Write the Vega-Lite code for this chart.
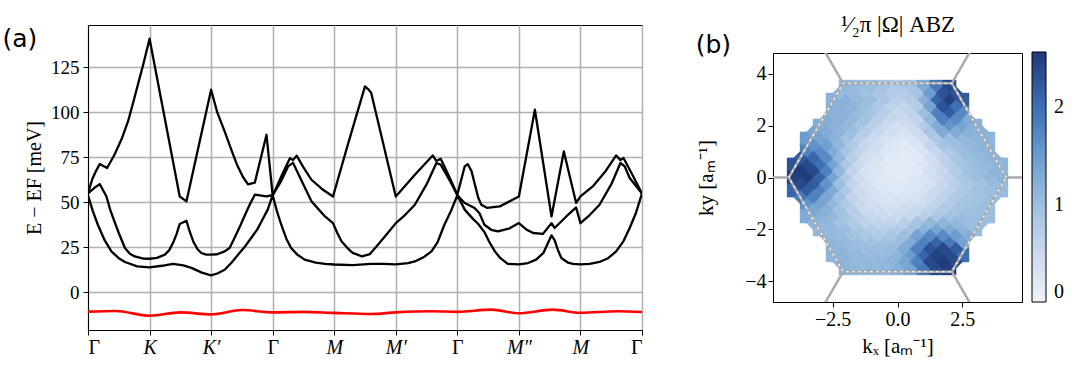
{
 "$schema": "https://vega.github.io/schema/vega-lite/v6.json",
 "background": "white",
 "padding": {"left": 2, "top": 12, "right": 0, "bottom": 0},
 "datasets": {
  "bands": [
   {"b":"t","k":0,"E":55},{"b":"t","k":0.07,"E":63},{"b":"t","k":0.13,"E":67.5},{"b":"t","k":0.19,"E":71.3},{"b":"t","k":0.31,"E":69.1},{"b":"t","k":0.43,"E":76.5},{"b":"t","k":0.55,"E":85.5},{"b":"t","k":0.65,"E":95},{"b":"t","k":0.73,"E":105},{"b":"t","k":0.81,"E":115.4},{"b":"t","k":0.9,"E":127},{"b":"t","k":1.0,"E":141},{"b":"t","k":1.49,"E":53.3},{"b":"t","k":1.6,"E":50.6},{"b":"t","k":2.0,"E":112.6},{"b":"t","k":2.1,"E":100},{"b":"t","k":2.22,"E":89.5},{"b":"t","k":2.32,"E":80},{"b":"t","k":2.42,"E":71},{"b":"t","k":2.52,"E":64},{"b":"t","k":2.6,"E":60},{"b":"t","k":2.71,"E":61},{"b":"t","k":2.9,"E":87.6},{"b":"t","k":3.0,"E":54},{"b":"t","k":3.07,"E":59},{"b":"t","k":3.14,"E":64.4},{"b":"t","k":3.21,"E":69.5},{"b":"t","k":3.28,"E":74.6},{"b":"t","k":3.33,"E":73.5},{"b":"t","k":3.39,"E":76},{"b":"t","k":3.5,"E":69.5},{"b":"t","k":3.63,"E":62.6},{"b":"t","k":3.8,"E":57.5},{"b":"t","k":3.98,"E":53.3},{"b":"t","k":4.22,"E":82},{"b":"t","k":4.5,"E":114.5},{"b":"t","k":4.55,"E":113},{"b":"t","k":4.6,"E":111},{"b":"t","k":5.0,"E":53.3},{"b":"t","k":5.31,"E":65.4},{"b":"t","k":5.6,"E":76.1},{"b":"t","k":5.66,"E":73},{"b":"t","k":5.73,"E":74.3},{"b":"t","k":5.88,"E":63.5},{"b":"t","k":6.0,"E":54.3},{"b":"t","k":6.07,"E":63.5},{"b":"t","k":6.12,"E":70},{"b":"t","k":6.17,"E":71.3},{"b":"t","k":6.23,"E":67.4},{"b":"t","k":6.34,"E":52.6},{"b":"t","k":6.39,"E":48.7},{"b":"t","k":6.48,"E":47},{"b":"t","k":6.69,"E":47.8},{"b":"t","k":6.85,"E":50.6},{"b":"t","k":7.0,"E":53.3},{"b":"t","k":7.26,"E":101.5},{"b":"t","k":7.53,"E":42.2},{"b":"t","k":7.73,"E":78.3},{"b":"t","k":7.93,"E":49.7},{"b":"t","k":8.0,"E":53.3},{"b":"t","k":8.2,"E":58.9},{"b":"t","k":8.4,"E":67},{"b":"t","k":8.58,"E":76.1},{"b":"t","k":8.65,"E":73.5},{"b":"t","k":8.7,"E":74.7},{"b":"t","k":8.85,"E":65},{"b":"t","k":9.0,"E":55},
   {"b":"m","k":0,"E":55},{"b":"m","k":0.1,"E":58},{"b":"m","k":0.19,"E":60.2},{"b":"m","k":0.3,"E":53.3},{"b":"m","k":0.36,"E":46},{"b":"m","k":0.43,"E":39.4},{"b":"m","k":0.5,"E":33},{"b":"m","k":0.6,"E":24.7},{"b":"m","k":0.68,"E":21.5},{"b":"m","k":0.76,"E":20},{"b":"m","k":0.9,"E":18.8},{"b":"m","k":1.0,"E":18.7},{"b":"m","k":1.12,"E":19.2},{"b":"m","k":1.25,"E":21},{"b":"m","k":1.32,"E":23.5},{"b":"m","k":1.38,"E":27.4},{"b":"m","k":1.44,"E":32.5},{"b":"m","k":1.49,"E":38},{"b":"m","k":1.6,"E":39.8},{"b":"m","k":1.65,"E":34},{"b":"m","k":1.71,"E":28.3},{"b":"m","k":1.78,"E":24},{"b":"m","k":1.84,"E":21.9},{"b":"m","k":1.92,"E":21},{"b":"m","k":2.0,"E":21},{"b":"m","k":2.1,"E":21.2},{"b":"m","k":2.22,"E":22.8},{"b":"m","k":2.3,"E":24.7},{"b":"m","k":2.38,"E":30.2},{"b":"m","k":2.46,"E":36},{"b":"m","k":2.55,"E":43},{"b":"m","k":2.63,"E":49},{"b":"m","k":2.71,"E":54.3},{"b":"m","k":2.9,"E":53.3},{"b":"m","k":3.0,"E":54},{"b":"m","k":3.14,"E":62},{"b":"m","k":3.25,"E":70},{"b":"m","k":3.33,"E":72},{"b":"m","k":3.45,"E":63.5},{"b":"m","k":3.63,"E":50.6},{"b":"m","k":3.75,"E":46},{"b":"m","k":3.85,"E":42.2},{"b":"m","k":3.98,"E":38.5},{"b":"m","k":4.05,"E":33},{"b":"m","k":4.12,"E":28.3},{"b":"m","k":4.22,"E":24.5},{"b":"m","k":4.3,"E":22},{"b":"m","k":4.45,"E":20},{"b":"m","k":4.58,"E":21.3},{"b":"m","k":4.71,"E":26.5},{"b":"m","k":4.87,"E":33},{"b":"m","k":5.0,"E":38.5},{"b":"m","k":5.15,"E":43},{"b":"m","k":5.31,"E":48.7},{"b":"m","k":5.5,"E":60},{"b":"m","k":5.66,"E":71.9},{"b":"m","k":5.73,"E":71},{"b":"m","k":5.88,"E":62},{"b":"m","k":6.0,"E":54},{"b":"m","k":6.12,"E":49.7},{"b":"m","k":6.28,"E":46.9},{"b":"m","k":6.36,"E":44},{"b":"m","k":6.44,"E":37.6},{"b":"m","k":6.55,"E":34.8},{"b":"m","k":6.66,"E":33.9},{"b":"m","k":6.85,"E":35.6},{"b":"m","k":7.0,"E":38.5},{"b":"m","k":7.12,"E":35},{"b":"m","k":7.23,"E":33},{"b":"m","k":7.39,"E":32.5},{"b":"m","k":7.53,"E":38.5},{"b":"m","k":7.58,"E":35.8},{"b":"m","k":7.77,"E":42.2},{"b":"m","k":7.93,"E":47.2},{"b":"m","k":8.0,"E":38.5},{"b":"m","k":8.15,"E":43},{"b":"m","k":8.31,"E":48.7},{"b":"m","k":8.5,"E":60},{"b":"m","k":8.65,"E":71.9},{"b":"m","k":8.72,"E":70},{"b":"m","k":8.8,"E":63.6},{"b":"m","k":9.0,"E":55},
   {"b":"l","k":0,"E":54},{"b":"l","k":0.08,"E":45},{"b":"l","k":0.16,"E":37.6},{"b":"l","k":0.27,"E":29},{"b":"l","k":0.38,"E":22.8},{"b":"l","k":0.5,"E":19},{"b":"l","k":0.6,"E":16.9},{"b":"l","k":0.8,"E":14.5},{"b":"l","k":1.0,"E":13.9},{"b":"l","k":1.2,"E":14.8},{"b":"l","k":1.38,"E":15.8},{"b":"l","k":1.55,"E":15},{"b":"l","k":1.68,"E":13.6},{"b":"l","k":1.85,"E":11},{"b":"l","k":2.0,"E":9.5},{"b":"l","k":2.1,"E":10.5},{"b":"l","k":2.22,"E":12.6},{"b":"l","k":2.33,"E":16.5},{"b":"l","k":2.44,"E":21},{"b":"l","k":2.55,"E":25.5},{"b":"l","k":2.65,"E":30.2},{"b":"l","k":2.75,"E":35},{"b":"l","k":2.82,"E":39.5},{"b":"l","k":2.92,"E":46},{"b":"l","k":3.0,"E":54},{"b":"l","k":3.07,"E":45},{"b":"l","k":3.14,"E":37.6},{"b":"l","k":3.22,"E":30},{"b":"l","k":3.3,"E":24.7},{"b":"l","k":3.4,"E":21},{"b":"l","k":3.52,"E":18.2},{"b":"l","k":3.7,"E":16.5},{"b":"l","k":3.85,"E":15.8},{"b":"l","k":4.0,"E":15.5},{"b":"l","k":4.3,"E":15.2},{"b":"l","k":4.6,"E":15.8},{"b":"l","k":4.8,"E":15.9},{"b":"l","k":5.0,"E":15.6},{"b":"l","k":5.2,"E":16.3},{"b":"l","k":5.31,"E":17.2},{"b":"l","k":5.45,"E":19.5},{"b":"l","k":5.58,"E":22.8},{"b":"l","k":5.68,"E":28},{"b":"l","k":5.79,"E":37.6},{"b":"l","k":5.9,"E":45.5},{"b":"l","k":6.0,"E":54},{"b":"l","k":6.12,"E":46},{"b":"l","k":6.25,"E":41},{"b":"l","k":6.34,"E":38},{"b":"l","k":6.44,"E":33.5},{"b":"l","k":6.52,"E":28},{"b":"l","k":6.61,"E":22.8},{"b":"l","k":6.7,"E":19},{"b":"l","k":6.82,"E":15.8},{"b":"l","k":7.0,"E":15.6},{"b":"l","k":7.15,"E":16.3},{"b":"l","k":7.28,"E":18.2},{"b":"l","k":7.4,"E":22},{"b":"l","k":7.48,"E":28},{"b":"l","k":7.53,"E":31.7},{"b":"l","k":7.58,"E":29},{"b":"l","k":7.64,"E":23},{"b":"l","k":7.69,"E":19.1},{"b":"l","k":7.8,"E":16.5},{"b":"l","k":7.88,"E":15.8},{"b":"l","k":8.0,"E":15.6},{"b":"l","k":8.15,"E":15.9},{"b":"l","k":8.31,"E":16.9},{"b":"l","k":8.45,"E":19},{"b":"l","k":8.58,"E":22.8},{"b":"l","k":8.7,"E":28.5},{"b":"l","k":8.8,"E":35.8},{"b":"l","k":8.9,"E":44},{"b":"l","k":9.0,"E":55},
   {"b":"r","k":0,"E":-10.7},{"b":"r","k":0.45,"E":-10.3},{"b":"r","k":1.0,"E":-13},{"b":"r","k":1.5,"E":-11.1},{"b":"r","k":2.0,"E":-12.2},{"b":"r","k":2.5,"E":-9.8},{"b":"r","k":3.0,"E":-11.1},{"b":"r","k":3.5,"E":-10.8},{"b":"r","k":4.0,"E":-11.4},{"b":"r","k":4.6,"E":-12},{"b":"r","k":5.0,"E":-11.1},{"b":"r","k":5.6,"E":-10.5},{"b":"r","k":6.0,"E":-10.8},{"b":"r","k":6.55,"E":-9.6},{"b":"r","k":7.0,"E":-11.6},{"b":"r","k":7.55,"E":-9.6},{"b":"r","k":8.0,"E":-11.3},{"b":"r","k":8.6,"E":-10.5},{"b":"r","k":9.0,"E":-10.9}
  ],
  "heat": [
   {"x":-2,"y":3.5,"v":1.1},{"x":-1.5,"y":3.5,"v":1.05},{"x":-1,"y":3.5,"v":1.0},{"x":-0.5,"y":3.5,"v":0.9},{"x":0,"y":3.5,"v":0.8},{"x":0.5,"y":3.5,"v":0.9},{"x":1,"y":3.5,"v":1.3},{"x":1.5,"y":3.5,"v":1.9},{"x":2,"y":3.5,"v":2.4},
   {"x":-2.5,"y":3,"v":1.2},{"x":-2,"y":3,"v":1.2},{"x":-1.5,"y":3,"v":1.1},{"x":-1,"y":3,"v":1.0},{"x":-0.5,"y":3,"v":0.85},{"x":0,"y":3,"v":0.7},{"x":0.5,"y":3,"v":0.75},{"x":1,"y":3,"v":1.2},{"x":1.5,"y":3,"v":2.1},{"x":2,"y":3,"v":2.5},{"x":2.5,"y":3,"v":2.2},
   {"x":-2.5,"y":2.5,"v":1.2},{"x":-2,"y":2.5,"v":1.2},{"x":-1.5,"y":2.5,"v":1.05},{"x":-1,"y":2.5,"v":0.9},{"x":-0.5,"y":2.5,"v":0.7},{"x":0,"y":2.5,"v":0.55},{"x":0.5,"y":2.5,"v":0.6},{"x":1,"y":2.5,"v":1.0},{"x":1.5,"y":2.5,"v":1.8},{"x":2,"y":2.5,"v":2.2},{"x":2.5,"y":2.5,"v":1.7},
   {"x":-3,"y":2,"v":1.25},{"x":-2.5,"y":2,"v":1.2},{"x":-2,"y":2,"v":1.1},{"x":-1.5,"y":2,"v":0.9},{"x":-1,"y":2,"v":0.7},{"x":-0.5,"y":2,"v":0.5},{"x":0,"y":2,"v":0.4},{"x":0.5,"y":2,"v":0.45},{"x":1,"y":2,"v":0.75},{"x":1.5,"y":2,"v":1.3},{"x":2,"y":2,"v":1.6},{"x":2.5,"y":2,"v":1.4},{"x":3,"y":2,"v":1.2},
   {"x":-3.5,"y":1.5,"v":1.5},{"x":-3,"y":1.5,"v":1.4},{"x":-2.5,"y":1.5,"v":1.2},{"x":-2,"y":1.5,"v":0.95},{"x":-1.5,"y":1.5,"v":0.7},{"x":-1,"y":1.5,"v":0.5},{"x":-0.5,"y":1.5,"v":0.35},{"x":0,"y":1.5,"v":0.3},{"x":0.5,"y":1.5,"v":0.3},{"x":1,"y":1.5,"v":0.45},{"x":1.5,"y":1.5,"v":0.8},{"x":2,"y":1.5,"v":1.0},{"x":2.5,"y":1.5,"v":1.1},{"x":3,"y":1.5,"v":1.15},{"x":3.5,"y":1.5,"v":1.15},
   {"x":-3.5,"y":1,"v":1.8},{"x":-3,"y":1,"v":1.7},{"x":-2.5,"y":1,"v":1.3},{"x":-2,"y":1,"v":0.9},{"x":-1.5,"y":1,"v":0.6},{"x":-1,"y":1,"v":0.4},{"x":-0.5,"y":1,"v":0.25},{"x":0,"y":1,"v":0.2},{"x":0.5,"y":1,"v":0.15},{"x":1,"y":1,"v":0.3},{"x":1.5,"y":1,"v":0.55},{"x":2,"y":1,"v":0.8},{"x":2.5,"y":1,"v":1.0},{"x":3,"y":1,"v":1.1},{"x":3.5,"y":1,"v":1.15},
   {"x":-4,"y":0.5,"v":2.3},{"x":-3.5,"y":0.5,"v":2.4},{"x":-3,"y":0.5,"v":2.0},{"x":-2.5,"y":0.5,"v":1.4},{"x":-2,"y":0.5,"v":0.85},{"x":-1.5,"y":0.5,"v":0.5},{"x":-1,"y":0.5,"v":0.3},{"x":-0.5,"y":0.5,"v":0.2},{"x":0,"y":0.5,"v":0.15},{"x":0.5,"y":0.5,"v":0.15},{"x":1,"y":0.5,"v":0.25},{"x":1.5,"y":0.5,"v":0.45},{"x":2,"y":0.5,"v":0.7},{"x":2.5,"y":0.5,"v":0.9},{"x":3,"y":0.5,"v":1.05},{"x":3.5,"y":0.5,"v":1.1},{"x":4,"y":0.5,"v":1.15},
   {"x":-4,"y":0,"v":2.5},{"x":-3.5,"y":0,"v":2.55},{"x":-3,"y":0,"v":2.1},{"x":-2.5,"y":0,"v":1.4},{"x":-2,"y":0,"v":0.8},{"x":-1.5,"y":0,"v":0.45},{"x":-1,"y":0,"v":0.3},{"x":-0.5,"y":0,"v":0.2},{"x":0,"y":0,"v":0.15},{"x":0.5,"y":0,"v":0.2},{"x":1,"y":0,"v":0.3},{"x":1.5,"y":0,"v":0.45},{"x":2,"y":0,"v":0.65},{"x":2.5,"y":0,"v":0.85},{"x":3,"y":0,"v":1.0},{"x":3.5,"y":0,"v":1.1},{"x":4,"y":0,"v":1.15},
   {"x":-4,"y":-0.5,"v":2.1},{"x":-3.5,"y":-0.5,"v":2.2},{"x":-3,"y":-0.5,"v":1.8},{"x":-2.5,"y":-0.5,"v":1.3},{"x":-2,"y":-0.5,"v":0.8},{"x":-1.5,"y":-0.5,"v":0.5},{"x":-1,"y":-0.5,"v":0.35},{"x":-0.5,"y":-0.5,"v":0.25},{"x":0,"y":-0.5,"v":0.2},{"x":0.5,"y":-0.5,"v":0.25},{"x":1,"y":-0.5,"v":0.35},{"x":1.5,"y":-0.5,"v":0.5},{"x":2,"y":-0.5,"v":0.65},{"x":2.5,"y":-0.5,"v":0.8},{"x":3,"y":-0.5,"v":0.95},{"x":3.5,"y":-0.5,"v":1.0},{"x":4,"y":-0.5,"v":1.05},
   {"x":-3.5,"y":-1,"v":1.6},{"x":-3,"y":-1,"v":1.4},{"x":-2.5,"y":-1,"v":1.1},{"x":-2,"y":-1,"v":0.8},{"x":-1.5,"y":-1,"v":0.55},{"x":-1,"y":-1,"v":0.4},{"x":-0.5,"y":-1,"v":0.35},{"x":0,"y":-1,"v":0.35},{"x":0.5,"y":-1,"v":0.4},{"x":1,"y":-1,"v":0.45},{"x":1.5,"y":-1,"v":0.6},{"x":2,"y":-1,"v":0.75},{"x":2.5,"y":-1,"v":0.9},{"x":3,"y":-1,"v":0.95},{"x":3.5,"y":-1,"v":1.0},
   {"x":-3.5,"y":-1.5,"v":1.3},{"x":-3,"y":-1.5,"v":1.2},{"x":-2.5,"y":-1.5,"v":1.1},{"x":-2,"y":-1.5,"v":0.9},{"x":-1.5,"y":-1.5,"v":0.7},{"x":-1,"y":-1.5,"v":0.55},{"x":-0.5,"y":-1.5,"v":0.5},{"x":0,"y":-1.5,"v":0.5},{"x":0.5,"y":-1.5,"v":0.55},{"x":1,"y":-1.5,"v":0.7},{"x":1.5,"y":-1.5,"v":0.85},{"x":2,"y":-1.5,"v":0.95},{"x":2.5,"y":-1.5,"v":1.0},{"x":3,"y":-1.5,"v":1.0},{"x":3.5,"y":-1.5,"v":1.0},
   {"x":-3,"y":-2,"v":1.1},{"x":-2.5,"y":-2,"v":1.1},{"x":-2,"y":-2,"v":1.0},{"x":-1.5,"y":-2,"v":0.85},{"x":-1,"y":-2,"v":0.75},{"x":-0.5,"y":-2,"v":0.7},{"x":0,"y":-2,"v":0.75},{"x":0.5,"y":-2,"v":0.9},{"x":1,"y":-2,"v":1.2},{"x":1.5,"y":-2,"v":1.4},{"x":2,"y":-2,"v":1.3},{"x":2.5,"y":-2,"v":1.15},{"x":3,"y":-2,"v":1.05},
   {"x":-2.5,"y":-2.5,"v":1.15},{"x":-2,"y":-2.5,"v":1.1},{"x":-1.5,"y":-2.5,"v":1.0},{"x":-1,"y":-2.5,"v":0.95},{"x":-0.5,"y":-2.5,"v":0.95},{"x":0,"y":-2.5,"v":1.0},{"x":0.5,"y":-2.5,"v":1.3},{"x":1,"y":-2.5,"v":1.8},{"x":1.5,"y":-2.5,"v":2.1},{"x":2,"y":-2.5,"v":1.9},{"x":2.5,"y":-2.5,"v":1.4},
   {"x":-2.5,"y":-3,"v":1.15},{"x":-2,"y":-3,"v":1.15},{"x":-1.5,"y":-3,"v":1.1},{"x":-1,"y":-3,"v":1.05},{"x":-0.5,"y":-3,"v":1.05},{"x":0,"y":-3,"v":1.15},{"x":0.5,"y":-3,"v":1.5},{"x":1,"y":-3,"v":2.1},{"x":1.5,"y":-3,"v":2.5},{"x":2,"y":-3,"v":2.4},{"x":2.5,"y":-3,"v":2.0},
   {"x":-2,"y":-3.5,"v":1.15},{"x":-1.5,"y":-3.5,"v":1.1},{"x":-1,"y":-3.5,"v":1.1},{"x":-0.5,"y":-3.5,"v":1.1},{"x":0,"y":-3.5,"v":1.2},{"x":0.5,"y":-3.5,"v":1.4},{"x":1,"y":-3.5,"v":1.9},{"x":1.5,"y":-3.5,"v":2.4},{"x":2,"y":-3.5,"v":2.5}
  ],
  "heat2": [
   {"x":-2.25,"y":3.25,"v":1.05},{"x":-1.75,"y":3.25,"v":1.05},{"x":-1.25,"y":3.25,"v":0.95},{"x":-0.75,"y":3.25,"v":0.85},{"x":-0.25,"y":3.25,"v":0.75},{"x":0.25,"y":3.25,"v":0.75},{"x":0.75,"y":3.25,"v":0.9},{"x":1.25,"y":3.25,"v":1.5},{"x":1.75,"y":3.25,"v":2.3},{"x":2.25,"y":3.25,"v":2.3},
   {"x":-2.25,"y":2.75,"v":1.2},{"x":-1.75,"y":2.75,"v":1.15},{"x":-1.25,"y":2.75,"v":1.0},{"x":-0.75,"y":2.75,"v":0.8},{"x":-0.25,"y":2.75,"v":0.65},{"x":0.25,"y":2.75,"v":0.6},{"x":0.75,"y":2.75,"v":0.75},{"x":1.25,"y":2.75,"v":1.4},{"x":1.75,"y":2.75,"v":2.3},{"x":2.25,"y":2.75,"v":2.0},
   {"x":-2.75,"y":2.25,"v":1.25},{"x":-2.25,"y":2.25,"v":1.2},{"x":-1.75,"y":2.25,"v":1.1},{"x":-1.25,"y":2.25,"v":0.95},{"x":-0.75,"y":2.25,"v":0.7},{"x":-0.25,"y":2.25,"v":0.55},{"x":0.25,"y":2.25,"v":0.5},{"x":0.75,"y":2.25,"v":0.6},{"x":1.25,"y":2.25,"v":1.1},{"x":1.75,"y":2.25,"v":1.8},{"x":2.25,"y":2.25,"v":1.7},{"x":2.75,"y":2.25,"v":1.3},
   {"x":-3.25,"y":1.75,"v":1.35},{"x":-2.75,"y":1.75,"v":1.3},{"x":-2.25,"y":1.75,"v":1.15},{"x":-1.75,"y":1.75,"v":1.0},{"x":-1.25,"y":1.75,"v":0.75},{"x":-0.75,"y":1.75,"v":0.55},{"x":-0.25,"y":1.75,"v":0.4},{"x":0.25,"y":1.75,"v":0.35},{"x":0.75,"y":1.75,"v":0.5},{"x":1.25,"y":1.75,"v":0.9},{"x":1.75,"y":1.75,"v":1.3},{"x":2.25,"y":1.75,"v":1.3},{"x":2.75,"y":1.75,"v":1.2},{"x":3.25,"y":1.75,"v":1.2},
   {"x":-3.25,"y":1.25,"v":1.6},{"x":-2.75,"y":1.25,"v":1.45},{"x":-2.25,"y":1.25,"v":1.1},{"x":-1.75,"y":1.25,"v":0.8},{"x":-1.25,"y":1.25,"v":0.55},{"x":-0.75,"y":1.25,"v":0.4},{"x":-0.25,"y":1.25,"v":0.25},{"x":0.25,"y":1.25,"v":0.2},{"x":0.75,"y":1.25,"v":0.3},{"x":1.25,"y":1.25,"v":0.6},{"x":1.75,"y":1.25,"v":0.9},{"x":2.25,"y":1.25,"v":1.0},{"x":2.75,"y":1.25,"v":1.1},{"x":3.25,"y":1.25,"v":1.15},
   {"x":-3.75,"y":0.75,"v":2.2},{"x":-3.25,"y":0.75,"v":2.1},{"x":-2.75,"y":0.75,"v":1.7},{"x":-2.25,"y":0.75,"v":1.1},{"x":-1.75,"y":0.75,"v":0.7},{"x":-1.25,"y":0.75,"v":0.45},{"x":-0.75,"y":0.75,"v":0.3},{"x":-0.25,"y":0.75,"v":0.2},{"x":0.25,"y":0.75,"v":0.15},{"x":0.75,"y":0.75,"v":0.2},{"x":1.25,"y":0.75,"v":0.4},{"x":1.75,"y":0.75,"v":0.65},{"x":2.25,"y":0.75,"v":0.85},{"x":2.75,"y":0.75,"v":1.0},{"x":3.25,"y":0.75,"v":1.1},{"x":3.75,"y":0.75,"v":1.15},
   {"x":-3.75,"y":0.25,"v":2.55},{"x":-3.25,"y":0.25,"v":2.4},{"x":-2.75,"y":0.25,"v":1.8},{"x":-2.25,"y":0.25,"v":1.1},{"x":-1.75,"y":0.25,"v":0.6},{"x":-1.25,"y":0.25,"v":0.35},{"x":-0.75,"y":0.25,"v":0.25},{"x":-0.25,"y":0.25,"v":0.15},{"x":0.25,"y":0.25,"v":0.15},{"x":0.75,"y":0.25,"v":0.2},{"x":1.25,"y":0.25,"v":0.35},{"x":1.75,"y":0.25,"v":0.55},{"x":2.25,"y":0.25,"v":0.75},{"x":2.75,"y":0.25,"v":0.95},{"x":3.25,"y":0.25,"v":1.05},{"x":3.75,"y":0.25,"v":1.15},
   {"x":-3.75,"y":-0.25,"v":2.4},{"x":-3.25,"y":-0.25,"v":2.2},{"x":-2.75,"y":-0.25,"v":1.6},{"x":-2.25,"y":-0.25,"v":1.0},{"x":-1.75,"y":-0.25,"v":0.6},{"x":-1.25,"y":-0.25,"v":0.4},{"x":-0.75,"y":-0.25,"v":0.25},{"x":-0.25,"y":-0.25,"v":0.2},{"x":0.25,"y":-0.25,"v":0.2},{"x":0.75,"y":-0.25,"v":0.25},{"x":1.25,"y":-0.25,"v":0.35},{"x":1.75,"y":-0.25,"v":0.55},{"x":2.25,"y":-0.25,"v":0.7},{"x":2.75,"y":-0.25,"v":0.85},{"x":3.25,"y":-0.25,"v":0.95},{"x":3.75,"y":-0.25,"v":1.05},
   {"x":-3.75,"y":-0.75,"v":1.9},{"x":-3.25,"y":-0.75,"v":1.8},{"x":-2.75,"y":-0.75,"v":1.35},{"x":-2.25,"y":-0.75,"v":0.95},{"x":-1.75,"y":-0.75,"v":0.6},{"x":-1.25,"y":-0.75,"v":0.45},{"x":-0.75,"y":-0.75,"v":0.35},{"x":-0.25,"y":-0.75,"v":0.3},{"x":0.25,"y":-0.75,"v":0.3},{"x":0.75,"y":-0.75,"v":0.35},{"x":1.25,"y":-0.75,"v":0.5},{"x":1.75,"y":-0.75,"v":0.65},{"x":2.25,"y":-0.75,"v":0.8},{"x":2.75,"y":-0.75,"v":0.9},{"x":3.25,"y":-0.75,"v":0.95},{"x":3.75,"y":-0.75,"v":1.0},
   {"x":-3.25,"y":-1.25,"v":1.35},{"x":-2.75,"y":-1.25,"v":1.2},{"x":-2.25,"y":-1.25,"v":0.95},{"x":-1.75,"y":-1.25,"v":0.7},{"x":-1.25,"y":-1.25,"v":0.5},{"x":-0.75,"y":-1.25,"v":0.45},{"x":-0.25,"y":-1.25,"v":0.4},{"x":0.25,"y":-1.25,"v":0.45},{"x":0.75,"y":-1.25,"v":0.55},{"x":1.25,"y":-1.25,"v":0.65},{"x":1.75,"y":-1.25,"v":0.8},{"x":2.25,"y":-1.25,"v":0.9},{"x":2.75,"y":-1.25,"v":0.95},{"x":3.25,"y":-1.25,"v":1.0},
   {"x":-3.25,"y":-1.75,"v":1.15},{"x":-2.75,"y":-1.75,"v":1.1},{"x":-2.25,"y":-1.75,"v":0.95},{"x":-1.75,"y":-1.75,"v":0.8},{"x":-1.25,"y":-1.75,"v":0.65},{"x":-0.75,"y":-1.75,"v":0.6},{"x":-0.25,"y":-1.75,"v":0.6},{"x":0.25,"y":-1.75,"v":0.7},{"x":0.75,"y":-1.75,"v":0.9},{"x":1.25,"y":-1.75,"v":1.1},{"x":1.75,"y":-1.75,"v":1.15},{"x":2.25,"y":-1.75,"v":1.1},{"x":2.75,"y":-1.75,"v":1.0},{"x":3.25,"y":-1.75,"v":1.0},
   {"x":-2.75,"y":-2.25,"v":1.1},{"x":-2.25,"y":-2.25,"v":1.05},{"x":-1.75,"y":-2.25,"v":0.95},{"x":-1.25,"y":-2.25,"v":0.85},{"x":-0.75,"y":-2.25,"v":0.8},{"x":-0.25,"y":-2.25,"v":0.85},{"x":0.25,"y":-2.25,"v":1.0},{"x":0.75,"y":-2.25,"v":1.4},{"x":1.25,"y":-2.25,"v":1.7},{"x":1.75,"y":-2.25,"v":1.7},{"x":2.25,"y":-2.25,"v":1.5},{"x":2.75,"y":-2.25,"v":1.25},
   {"x":-2.25,"y":-2.75,"v":1.15},{"x":-1.75,"y":-2.75,"v":1.05},{"x":-1.25,"y":-2.75,"v":1.0},{"x":-0.75,"y":-2.75,"v":1.0},{"x":-0.25,"y":-2.75,"v":1.05},{"x":0.25,"y":-2.75,"v":1.3},{"x":0.75,"y":-2.75,"v":1.8},{"x":1.25,"y":-2.75,"v":2.3},{"x":1.75,"y":-2.75,"v":2.4},{"x":2.25,"y":-2.75,"v":2.2},
   {"x":-2.25,"y":-3.25,"v":1.15},{"x":-1.75,"y":-3.25,"v":1.1},{"x":-1.25,"y":-3.25,"v":1.1},{"x":-0.75,"y":-3.25,"v":1.1},{"x":-0.25,"y":-3.25,"v":1.15},{"x":0.25,"y":-3.25,"v":1.35},{"x":0.75,"y":-3.25,"v":1.8},{"x":1.25,"y":-3.25,"v":2.4},{"x":1.75,"y":-3.25,"v":2.55},{"x":2.25,"y":-3.25,"v":2.4}
  ],
  "hex": [
   {"s":"bz","o":0,"x":4.19,"y":0},{"s":"bz","o":1,"x":2.095,"y":3.629},{"s":"bz","o":2,"x":-2.095,"y":3.629},{"s":"bz","o":3,"x":-4.19,"y":0},{"s":"bz","o":4,"x":-2.095,"y":-3.629},{"s":"bz","o":5,"x":2.095,"y":-3.629},{"s":"bz","o":6,"x":4.19,"y":0},
   {"s":"e1","o":0,"x":4.19,"y":0},{"s":"e1","o":1,"x":5.2,"y":0},
   {"s":"e2","o":0,"x":-4.19,"y":0},{"s":"e2","o":1,"x":-5.2,"y":0},
   {"s":"e3","o":0,"x":2.095,"y":3.629},{"s":"e3","o":1,"x":2.895,"y":5.015},
   {"s":"e4","o":0,"x":-2.095,"y":3.629},{"s":"e4","o":1,"x":-2.895,"y":5.015},
   {"s":"e5","o":0,"x":2.095,"y":-3.629},{"s":"e5","o":1,"x":2.895,"y":-5.015},
   {"s":"e6","o":0,"x":-2.095,"y":-3.629},{"s":"e6","o":1,"x":-2.895,"y":-5.015}
  ]
 },
 "hconcat": [
  {
   "title": {"text": "(a)", "anchor": "start", "frame": "bounds", "dx": -22, "dy": 27, "font": "DejaVu Sans", "fontSize": 25, "fontWeight": "normal", "color": "black", "offset": 0},
   "width": 554,
   "height": 305,
   "data": {"name": "bands"},
   "encoding": {
    "x": {"field": "k", "type": "quantitative", "scale": {"domain": [0, 9], "nice": false, "zero": false},
     "axis": {"values": [0,1,2,3,4,5,6,7,8,9], "grid": true, "gridColor": "#b0b0b0", "gridWidth": 1.5, "title": null, "labelFontSize": 20, "labelPadding": 2,
      "labelExpr": "['Γ','K','K′','Γ','M','M′','Γ','M″','M','Γ'][datum.value]",
      "labelFontStyle": {"condition": {"test": "datum.value == 0 || datum.value == 3 || datum.value == 6 || datum.value == 9", "value": "normal"}, "value": "italic"}}},
    "y": {"field": "E", "type": "quantitative", "scale": {"domain": [-20.9, 148.6], "nice": false, "zero": false},
     "axis": {"values": [0,25,50,75,100,125], "grid": true, "gridColor": "#b0b0b0", "gridWidth": 1.5, "title": "E − EF [meV]", "titlePadding": 6, "labelPadding": 4}}
   },
   "layer": [
    {"transform": [{"filter": "datum.b != 'r'"}], "mark": {"type": "line", "color": "black", "strokeWidth": 2.3, "strokeJoin": "round", "clip": true}, "encoding": {"detail": {"field": "b"}}},
    {"transform": [{"filter": "datum.b == 'r'"}], "mark": {"type": "line", "color": "#ff0000", "strokeWidth": 2.6, "interpolate": "monotone", "clip": true}, "encoding": {}}
   ]
  },
  {
   "title": {"text": "(b)", "anchor": "start", "frame": "bounds", "dy": 45, "font": "DejaVu Sans", "fontSize": 25, "fontWeight": "normal", "color": "black", "offset": 0},
   "width": 249,
   "height": 249,
   "resolve": {"axis": {"x": "independent"}},
   "layer": [
    {"data": {"name": "heat"}, "mark": {"type": "square", "size": 190, "opacity": 1, "filled": true},
     "encoding": {
      "x": {"field": "x", "type": "quantitative", "scale": {"domain": [-4.8, 4.8], "nice": false, "zero": false},
       "axis": {"values": [-2.5, 0, 2.5], "format": ".1f", "title": "kₓ [aₘ⁻¹]", "labelFontSize": 20, "titleFontSize": 21, "titlePadding": 6}},
      "y": {"field": "y", "type": "quantitative", "scale": {"domain": [-4.8, 4.8], "nice": false, "zero": false},
       "axis": {"values": [-4, -2, 0, 2, 4], "title": "ky [aₘ⁻¹]", "labelFontSize": 20, "titleFontSize": 21, "titlePadding": 28}},
      "color": {"field": "v", "type": "quantitative",
       "scale": {"domain": [0, 0.5, 1, 1.5, 2, 2.57], "range": ["#eef3fa", "#cbdaee", "#9dbfdf", "#6b9dcf", "#3d6fb5", "#1f3a78"]},
       "legend": {"title": null, "values": [0, 1, 2], "format": "d", "gradientLength": 250, "gradientThickness": 14, "labelOffset": 8, "labelBaseline": "middle", "direction": "vertical", "orient": "none", "legendX": 944, "legendY": 27}}
     }},
    {"data": {"name": "heat2"}, "mark": {"type": "point", "shape": "diamond", "size": 196, "opacity": 1, "filled": true, "strokeWidth": 0},
     "encoding": {
      "x": {"field": "x", "type": "quantitative", "axis": null},
      "y": {"field": "y", "type": "quantitative"},
      "color": {"field": "v", "type": "quantitative"}
     }},
    {"data": {"name": "hex"}, "mark": {"type": "line", "color": "#aaaaaa", "strokeWidth": 2.5, "clip": true},
     "encoding": {
      "x": {"field": "x", "type": "quantitative", "axis": {"orient": "top", "title": "¹⁄₂π |Ω| ABZ", "titleFontSize": 23, "titlePadding": 17, "labels": false, "ticks": false, "domain": false, "grid": false}},
      "y": {"field": "y", "type": "quantitative"}, "detail": {"field": "s"}, "order": {"field": "o"}}},
    {"data": {"name": "hex"}, "transform": [{"filter": "datum.s == 'bz'"}], "mark": {"type": "line", "color": "white", "strokeWidth": 1.4, "strokeDash": [2, 4], "clip": true},
     "encoding": {"x": {"field": "x", "type": "quantitative", "axis": null}, "y": {"field": "y", "type": "quantitative"}, "order": {"field": "o"}}}
   ]
  }
 ],
 "spacing": 131,
 "bounds": "flush",
 "center": true,
 "config": {
  "view": {"stroke": "black", "strokeWidth": 1},
  "axis": {"labelFont": "Liberation Serif", "labelFontSize": 19, "labelColor": "black", "titleFont": "Liberation Serif", "titleFontSize": 20, "titleFontWeight": "normal", "titleColor": "black", "domainColor": "black", "tickColor": "black", "tickSize": 5, "grid": false},
  "legend": {"labelFont": "Liberation Serif", "labelFontSize": 20, "labelColor": "black", "gradientStrokeColor": "black", "gradientStrokeWidth": 1}
 }
}
